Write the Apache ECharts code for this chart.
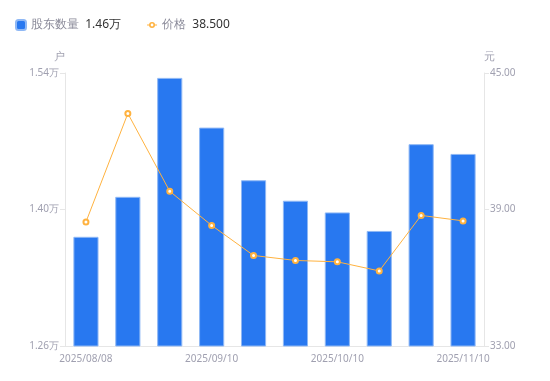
<!DOCTYPE html>
<html><head><meta charset="utf-8">
<script src="https://cdn.jsdelivr.net/npm/echarts@6/dist/echarts.min.js"></script>
<style>html,body{margin:0;padding:0;background:#fff}#c{width:550px;height:381px}</style>
</head><body><div id="c"></div>
<script>
const categories = ['2025/08/08','2025/08/20','2025/08/31','2025/09/10','2025/09/19','2025/09/30','2025/10/10','2025/10/20','2025/10/31','2025/11/10'];
const holders = [1.372, 1.413, 1.535, 1.484, 1.430, 1.409, 1.397, 1.378, 1.467, 1.457];
const prices = [38.45, 43.22, 39.80, 38.30, 36.98, 36.76, 36.70, 36.30, 38.74, 38.50];
const leftTicks = {min: 1.26, max: 1.54, interval: 0.14};
const rightTicks = {min: 33, max: 45, interval: 6};

const chart = echarts.init(document.getElementById('c'));
const font = 'Noto Sans, sans-serif';
const lineIcon = 'path://M0,2.6 L2.2,2.6 L2.2,3.4 L0,3.4 Z M7.8,2.6 L10,2.6 L10,3.4 L7.8,3.4 Z M5,0 A3,3 0 1,1 4.99,0 Z M5,1.6 A1.4,1.4 0 1,0 5.01,1.6 Z';
chart.setOption({
  animation: false,
  textStyle: {fontFamily: font},
  legend: {
    left: 10, top: 14, itemWidth: 10, itemHeight: 10, itemGap: 26,
    data: [
      {name: '股东数量', icon: 'roundRect'},
      {name: '价格', icon: lineIcon, itemStyle: {color: '#ffb23f', borderWidth: 0}}
    ],
    formatter: function (n) {
      if (n === '股东数量') return '{a|' + n + '}  {b|' + holders[holders.length-1].toFixed(2) + '万}';
      return '{a|' + n + '}  {b|' + prices[prices.length-1].toFixed(3) + '}';
    },
    textStyle: {
      rich: {
        a: {color: '#8a8a99', fontSize: 12, fontFamily: font},
        b: {color: '#333333', fontSize: 12, fontFamily: font}
      }
    }
  },
  grid: {left: 65, right: 66, top: 73, bottom: 35},
  xAxis: {
    type: 'category', data: categories,
    axisLine: {lineStyle: {color: '#e6e6e6'}},
    axisTick: {show: false},
    axisLabel: {interval: 2, color: '#a0a0b0', fontSize: 10, margin: 8}
  },
  yAxis: [{
    type: 'value', name: '户', min: leftTicks.min, max: leftTicks.max, interval: leftTicks.interval,
    nameTextStyle: {color: '#a0a0b0', fontSize: 11, padding: [0, 12, 0, 0]},
    nameGap: 11,
    axisLine: {show: true, lineStyle: {color: '#e6e6e6'}},
    axisTick: {show: true, length: 5, lineStyle: {color: '#e6e6e6'}},
    splitLine: {show: false},
    axisLabel: {color: '#a0a0b0', fontSize: 10, margin: 6, formatter: v => v.toFixed(2) + '万'}
  }, {
    type: 'value', name: '元', min: rightTicks.min, max: rightTicks.max, interval: rightTicks.interval,
    nameTextStyle: {color: '#a0a0b0', fontSize: 11, padding: [0, 0, 0, 10]},
    nameGap: 11,
    axisLine: {show: true, lineStyle: {color: '#e6e6e6'}},
    axisTick: {show: true, length: 5, lineStyle: {color: '#e6e6e6'}},
    splitLine: {show: false},
    axisLabel: {color: '#a0a0b0', fontSize: 10, margin: 6, formatter: v => v.toFixed(2)}
  }],
  series: [{
    name: '股东数量', type: 'bar', data: holders, barWidth: '60%', yAxisIndex: 0,
    itemStyle: {color: '#2878f0', borderColor: '#8fb8f5', borderWidth: 1}
  }, {
    name: '价格', type: 'line', data: prices, yAxisIndex: 1,
    symbol: 'emptyCircle', symbolSize: 5,
    lineStyle: {color: '#ffb23f', width: 1},
    itemStyle: {color: '#ffb23f', borderWidth: 2}
  }]
});
</script></body></html>
